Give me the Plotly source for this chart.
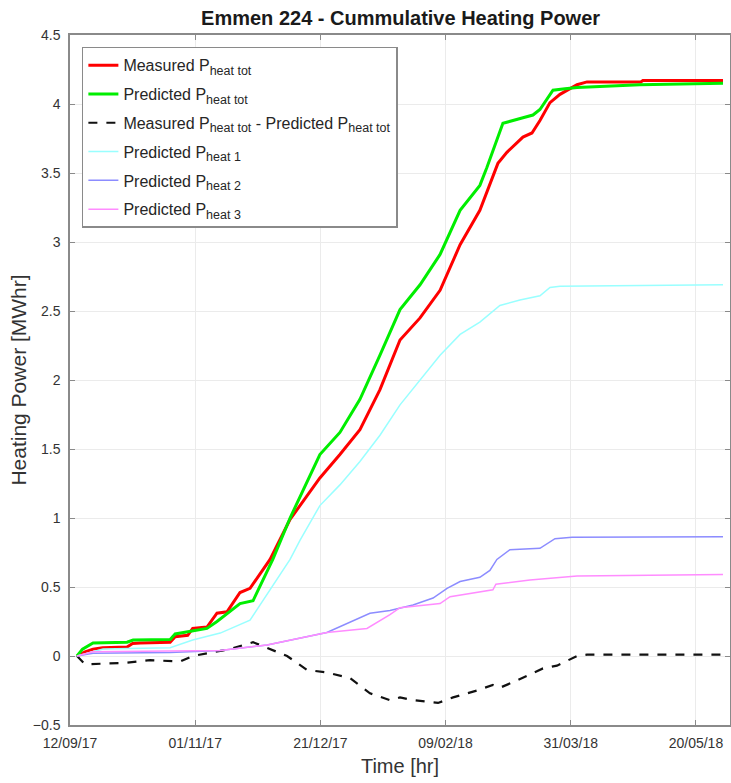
import pandas as pd
import plotly.graph_objects as go

START = pd.Timestamp("2017-09-12")

# days since 12/09/17 and cumulative values (MWhr)
red_days = [2.8, 6, 9.2, 13, 22.8, 25, 28, 40, 42, 47, 49, 54.7, 58.7, 62.7, 67.9, 71.9, 79.9, 87.9,
            99.8, 107.8, 115.8, 123.8, 131.8, 139.8, 147.8, 155.8, 163.7, 170.9, 174.5, 180.9, 184.5,
            187.7, 191.7, 195.7, 202.5, 206.5, 228, 228.8, 260.8]
red_vals = [0, 0.03, 0.05, 0.06, 0.065, 0.09, 0.095, 0.1, 0.14, 0.15, 0.2, 0.21, 0.31, 0.32, 0.46, 0.49, 0.7, 0.99,
            1.29, 1.46, 1.64, 1.93, 2.29, 2.45, 2.65, 2.98, 3.23, 3.57, 3.65, 3.76, 3.79,
            3.88, 4.01, 4.07, 4.14, 4.16, 4.16, 4.17, 4.17]

green_days = [2.8, 5, 9.2, 22.8, 25.2, 40, 42, 49, 54.7, 58.7, 67.9, 73.1, 81, 87.9, 99.8, 107.8, 115.8,
              123.8, 131.8, 139.8, 147.8, 155.8, 163.7, 166.5, 172.9, 180.9, 184.9, 187.7, 192.9, 197.7,
              202.5, 227.6, 260.8]
green_vals = [0, 0.05, 0.095, 0.1, 0.116, 0.12, 0.16, 0.18, 0.2, 0.25, 0.38, 0.4, 0.7, 1.0, 1.46, 1.62, 1.86,
              2.18, 2.51, 2.69, 2.91, 3.23, 3.41, 3.54, 3.86, 3.9, 3.92, 3.96, 4.1, 4.11,
              4.12, 4.14, 4.15]

diff_days = [2.8, 6, 22, 32, 44, 49, 64, 73.1, 86.7, 94.6, 102.6, 111.8, 119.8, 127.8, 131.8, 137, 147,
             153, 162.5, 168.9, 171.7, 176.9, 188.9, 194.5, 202.5, 206.5, 260.8]
diff_vals = [0, -0.06, -0.05, -0.03, -0.04, 0, 0.05, 0.1, 0, -0.1, -0.12, -0.16, -0.27, -0.32, -0.3, -0.32, -0.34,
             -0.3, -0.25, -0.21, -0.23, -0.19, -0.09, -0.07, 0.0, 0.01, 0.01]

h1_days = [2.8, 13.2, 40, 49, 60, 71.9, 87.9, 91.9, 99.8, 107.8, 115.8, 123.8, 131.8, 139.8, 147.8, 155.8,
           163.7, 171.7, 179.7, 187.7, 191.7, 195.7, 260.8]
h1_vals = [0, 0.05, 0.06, 0.116, 0.166, 0.26, 0.7, 0.84, 1.09, 1.24, 1.41, 1.6, 1.82, 2.0, 2.18, 2.33,
           2.42, 2.54, 2.58, 2.61, 2.67, 2.68, 2.69]

h2_days = [2.8, 9.2, 40, 60, 78.7, 102.6, 119.8, 127.8, 137, 145, 150.6, 155.8, 163.7, 167.7, 170.5,
           175.7, 187.7, 193.7, 200.5, 260.8]
h2_vals = [0, 0.02, 0.025, 0.04, 0.08, 0.17, 0.31, 0.33, 0.37, 0.42, 0.49, 0.54, 0.57, 0.62, 0.7,
           0.77, 0.78, 0.85, 0.86, 0.865]

h3_days = [2.8, 9.2, 60, 78.7, 102.6, 118.6, 127.8, 131.8, 147.8, 151.8, 168.9, 170.1, 183.7, 202.5, 260.8]
h3_vals = [0, 0.03, 0.04, 0.08, 0.17, 0.2, 0.3, 0.35, 0.38, 0.43, 0.48, 0.52, 0.55, 0.58, 0.59]

tick_days = [0, 50, 100, 150, 200, 250]
y_ticks = [-0.5, 0, 0.5, 1, 1.5, 2, 2.5, 3, 3.5, 4, 4.5]


def to_dates(days):
    return [START + pd.Timedelta(days=d) for d in days]


def sub(s):
    return '<sub><span style="font-size:12.5px">' + s + "</span></sub>"


SUB = sub("heat tot")
series = [
    (red_days, red_vals, "Measured P" + SUB, "#ff0000", 3, "solid"),
    (green_days, green_vals, "Predicted P" + SUB, "#00ee00", 3, "solid"),
    (diff_days, diff_vals, "Measured P" + SUB + " - Predicted P" + SUB, "#111111", 2.2, "dash"),
    (h1_days, h1_vals, "Predicted P" + sub("heat 1"), "#99ffff", 1.5, "solid"),
    (h2_days, h2_vals, "Predicted P" + sub("heat 2"), "#8c8cff", 1.5, "solid"),
    (h3_days, h3_vals, "Predicted P" + sub("heat 3"), "#ff8cff", 1.5, "solid"),
]

fig = go.Figure()
for i, (d, v, name, col, w, dash) in enumerate(series):
    fig.add_trace(go.Scatter(x=to_dates(d), y=v, mode="lines", name=name,
                             legendgroup=str(i),
                             line=dict(color=col, width=w, dash=dash)))

tickvals = to_dates(tick_days)
ticktext = [t.strftime("%d/%m/%y") for t in tickvals]

FONT = "Liberation Sans, Arial"
axis_common = dict(showline=True, linecolor="#8a8a8a", linewidth=1.5, mirror="ticks",
                   ticks="inside", ticklen=5, tickcolor="#8a8a8a",
                   showgrid=True, gridcolor="#ebebeb", gridwidth=1, zeroline=False,
                   automargin=False,
                   tickfont=dict(family=FONT, size=14, color="#333333"))

fig.update_layout(
    width=731, height=783,
    margin=dict(l=70, r=1, t=35, b=58),
    paper_bgcolor="white", plot_bgcolor="white",
    font=dict(family=FONT, color="#262626"),
    title=dict(text="<b>Emmen 224 - Cummulative Heating Power</b>", x=0.548, xanchor="center",
               y=0.977, yanchor="middle", font=dict(size=20, color="#1a1a1a")),
    xaxis=dict(range=[START, START + pd.Timedelta(days=263.6)], tickvals=tickvals, ticktext=ticktext,
               ticklabelstandoff=4,
               title=dict(text="Time [hr]", font=dict(size=20, color="#333333"), standoff=9),
               **axis_common),
    yaxis=dict(range=[-0.5, 4.5], tickvals=y_ticks,
               ticklabelstandoff=5,
               title=dict(text="Heating Power [MWhr]", font=dict(size=21, color="#333333"), standoff=0),
               **axis_common),
    legend=dict(x=0.018, y=0.983, xanchor="left", yanchor="top", bgcolor="white",
                bordercolor="#8a8a8a", borderwidth=1.5, tracegroupgap=5,
                font=dict(family=FONT, size=16, color="#262626")),
    showlegend=True,
)

fig.write_html("out.html")
